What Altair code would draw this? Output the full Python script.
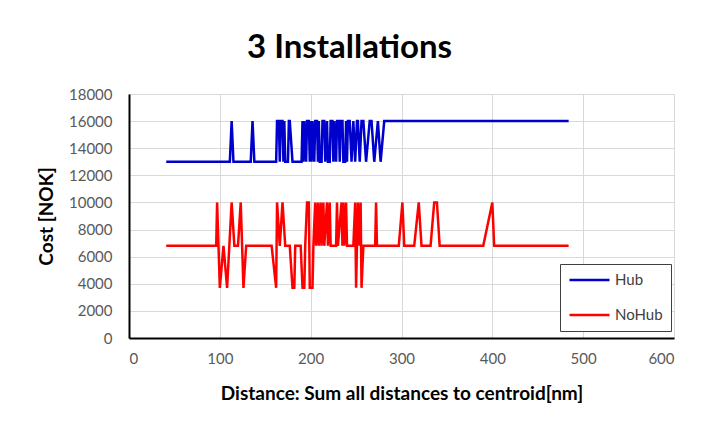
import altair as alt
import pandas as pd

# Hub series: distance [nm] and cost [NOK]
hub_x = [41, 111, 113, 115, 134, 136, 138, 162, 163, 165, 166, 167, 169, 170, 171, 172,
         175, 176, 177, 180, 190, 191, 192, 193, 195, 196, 198, 199, 200, 201, 202, 204,
         205, 207, 208, 209, 210, 212, 213, 215, 216, 218, 219, 221, 222, 224, 225, 226,
         228, 229, 231, 232, 233, 235, 236, 238, 239, 240, 241, 243, 245, 247, 249, 251,
         252, 254, 256, 258, 261, 265, 267, 270, 274, 277, 281, 484]
hub_y = [13000, 13000, 16000, 13000, 13000, 16000, 13000, 13000, 16000, 16000, 13000, 16000, 16000, 13000, 16000, 13000,
         13000, 16000, 16000, 13000, 13000, 16000, 13000, 16000, 13000, 16000, 16000, 13000, 16000, 13000, 16000, 13000,
         16000, 16000, 13000, 16000, 13000, 13000, 16000, 16000, 13000, 16000, 13000, 13000, 16000, 16000, 13000, 16000,
         13000, 16000, 16000, 13000, 16000, 16000, 13000, 13000, 16000, 13000, 16000, 16000, 13000, 16000, 13000, 16000,
         16000, 13000, 16000, 16000, 13000, 16000, 16000, 13000, 16000, 13000, 16000, 16000]

# NoHub series
nohub_x = [41, 96, 97, 100, 104, 108, 113, 116, 120, 123, 126, 129,
           157, 162, 163, 166, 169, 172, 177, 180, 182, 183, 189, 191, 193, 194, 196, 198, 199, 202, 203,
           205, 206, 208, 209, 211, 212, 214, 215, 218, 219, 221, 222, 228, 229, 230, 234, 235, 236, 237,
           239, 240, 247, 249, 250, 252, 253, 255, 256, 258, 271, 272, 273, 297, 301, 303, 314, 319, 322,
           332, 336, 339, 342, 390, 400, 402, 484]
nohub_y = [6800, 6800, 10000, 3700, 6800, 3700, 10000, 6800, 6800, 10000, 3700, 6800,
           6800, 3700, 10000, 6800, 10000, 6800, 6800, 3700, 3700, 6800, 6800, 3700, 3700, 6800, 10000, 10000, 3700, 3700, 6800,
           10000, 6800, 10000, 6800, 10000, 6800, 10000, 6800, 10000, 6800, 10000, 6800, 6800, 10000, 6800, 10000, 6800, 10000, 6800,
           10000, 6800, 6800, 10000, 3700, 10000, 6800, 10000, 3700, 6800, 6800, 10000, 6800, 6800, 10000, 6800, 6800, 10000, 6800,
           6800, 10000, 10000, 6800, 6800, 10000, 6800, 6800]

series_names = ["Hub", "NoHub"]
series_colors = ["#0000CC", "#FF0000"]
x_ticks = [0, 100, 200, 300, 400, 500, 600]
y_ticks = [0, 2000, 4000, 6000, 8000, 10000, 12000, 14000, 16000, 18000]

rows = []
for i, (xv, yv) in enumerate(zip(hub_x, hub_y)):
    rows.append({"dist": xv, "cost": yv, "series": "Hub", "idx": i})
for i, (xv, yv) in enumerate(zip(nohub_x, nohub_y)):
    rows.append({"dist": xv, "cost": yv, "series": "NoHub", "idx": i})
df = pd.DataFrame(rows)

FONT = "Lato"

chart = alt.Chart(df).mark_line(strokeWidth=2.5).encode(
    x=alt.X("dist:Q",
            scale=alt.Scale(domain=[0, 600], nice=False, zero=False),
            axis=alt.Axis(values=x_ticks, title="Distance: Sum all distances to centroid[nm]",
                          labelPadding=13, titlePadding=18, format="d")),
    y=alt.Y("cost:Q",
            scale=alt.Scale(domain=[0, 18000], nice=False),
            axis=alt.Axis(values=y_ticks, title="Cost [NOK]", labelPadding=17, titlePadding=12,
                          format="d")),
    color=alt.Color("series:N",
                    scale=alt.Scale(domain=series_names, range=series_colors),
                    title=None,
                    legend=alt.Legend(orient="none", legendX=431, legendY=170,
                                      symbolType="stroke", symbolSize=1600, symbolStrokeWidth=2.5,
                                      strokeColor="#404040", fillColor="white", padding=8,
                                      clipHeight=16, rowPadding=19,
                                      labelFont=FONT, labelFontSize=15,
                                      labelColor="#404040", labelOffset=4)),
    order=alt.Order("idx:Q"),
).properties(
    width=545, height=244,
    title=alt.TitleParams("3 Installations", font=FONT, fontSize=33, fontWeight="bold",
                          color="#000000", anchor="middle", dx=-52, offset=22),
    padding={"left": 121, "top": 86, "right": 21, "bottom": 82},
    autosize=alt.AutoSizeParams(type="none"),
).configure_view(stroke=None).configure_axis(
    labelFont=FONT, labelFontSize=15, labelColor="#595959",
    titleFont=FONT, titleFontSize=19, titleFontWeight="bold", titleColor="#000000",
    gridColor="#d9d9d9", gridWidth=1, domainColor="#000000", domainWidth=2,
    tickSize=0,
)

chart.save("out.html", embed_options={"renderer": "svg", "actions": False})
